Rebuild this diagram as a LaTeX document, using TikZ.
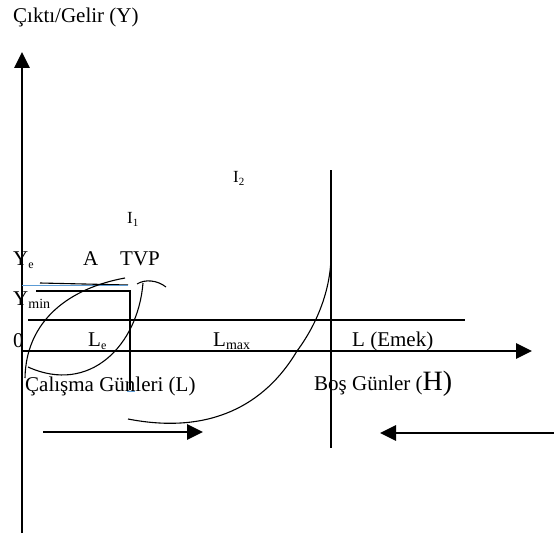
\documentclass[tikz,border=0pt]{standalone}
\usepackage{fontspec}
\setmainfont{Liberation Serif}
\usetikzlibrary{arrows.meta}
\definecolor{LineBlue}{HTML}{5B9BD5}
\newcommand{\lowsub}[2][13]{\raisebox{-3pt}{\fontsize{#1}{#1}\selectfont #2}}
\tikzset{
  axisline/.style={line width=2.8pt,-{Triangle[length=16pt,width=15pt]}},
  moveline/.style={line width=2.8pt,-{Triangle[length=16pt,width=15pt]}},
  guideline/.style={line width=1.1pt},
  curveline/.style={line width=1.1pt},
  lbl/.style={anchor=base west,inner sep=0pt,font=\fontsize{21}{25}\selectfont},
  smalllbl/.style={anchor=base west,inner sep=0pt,font=\fontsize{17}{20}\selectfont}
}
\begin{document}
\begin{tikzpicture}[x=1pt,y=-1pt]
\useasboundingbox (0,0) rectangle (554,535);
\draw[axisline] (22,533) -- (22,52);
\draw[axisline] (22,351) -- (532,351);
\draw[guideline] (28,320) -- (465,320);
\draw[guideline] (331,170) -- (331,448);
\draw[guideline] (36,291) -- (130,291) -- (130,390);
\draw[guideline] (40,283) -- (128,285);
\draw[LineBlue,line width=0.8pt] (22,285) -- (128,285);
\draw[LineBlue,line width=1pt] (127,391) -- (135,391);
\draw[curveline] (125,278) .. controls (70,288) and (26,320) .. (25,378);
\draw[curveline] (137,284) .. controls (145,279) and (157,280) .. (166,287);
\draw[curveline] (143,283) .. controls (138,345) and (90,395) .. (28,367);
\draw[curveline] (331,255) .. controls (331,285) and (320,320) .. (297,351)
  .. controls (265,405) and (210,435) .. (128,419);
\draw[moveline] (43,432) -- (203,432);
\draw[moveline] (554,433) -- (380,433);
\node[lbl] (ylab) at (13,23) {Çıktı/Gelir (Y)};
\node[smalllbl] (i2) at (233,182) {I\lowsub[11]{2}};
\node[smalllbl] (i1) at (127,223) {I\lowsub[11]{1}};
\node[lbl] (ye) at (13,265) {Y\lowsub[12]{e}};
\node[lbl] (a) at (83,265) {A};
\node[lbl] (tvp) at (120,265) {TVP};
\node[lbl] (ymin) at (13,305) {Y\lowsub[14]{min}};
\node[lbl] (zero) at (13,347) {0};
\node[lbl] (le) at (88,346) {L\lowsub[12]{e}};
\node[lbl] (lmax) at (213,346) {L\lowsub[14]{max}};
\node[lbl] (emek) at (352,346) {L (Emek)};
\node[lbl] (work) at (25,391) {Çalışma Günleri (L)};
\node[lbl] (idle) at (314,390) {Boş Günler ({\fontsize{28}{30}\selectfont H)}};
\end{tikzpicture}
\end{document}
